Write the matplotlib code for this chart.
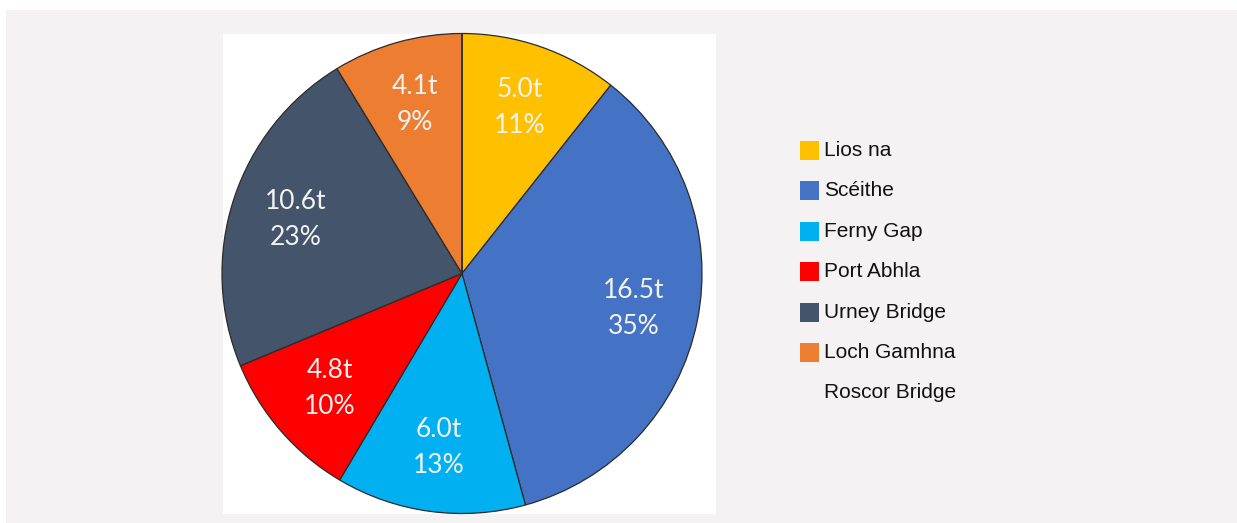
import matplotlib.pyplot as plt
from matplotlib.patches import Rectangle

# data
sites = ["Lios na", "Scéithe", "Ferny Gap", "Port Abhla", "Urney Bridge", "Loch Gamhna", "Roscor Bridge"]
tonnes = [5.0, 16.5, 6.0, 4.8, 10.6, 4.1, 0.0]
colours = ["#FFC000", "#4472C4", "#00B0F0", "#FF0000", "#44546A", "#ED7D31", "#8B1A1A"]

W, H = 1237, 523
PANEL = "#f4f2f3"


def px(x, y):
    # pixel coords (top-left origin) -> figure fraction
    return x / W, 1 - y / H


fig = plt.figure(figsize=(W / 100, H / 100), dpi=100)
fig.patch.set_facecolor("white")

# grey panel and the white square behind the pie
x0, y0 = px(6, H)
fig.add_artist(Rectangle((x0, y0), 1 - x0, px(0, 10)[1] - y0, transform=fig.transFigure,
                         facecolor=PANEL, edgecolor="none", zorder=0))
x0, y0 = px(223, 514)
x1, y1 = px(716, 34)
fig.add_artist(Rectangle((x0, y0), x1 - x0, y1 - y0, transform=fig.transFigure,
                         facecolor="white", edgecolor="none", zorder=0))

# pie axes: centre (462, 273.5), radius 240 px
cx, cy, r = 462, 273.5, 240
left, bottom = px(cx - r, cy + r)
ax = fig.add_axes([left, bottom, 2 * r / W, 2 * r / H])
ax.set_facecolor("none")

total = sum(tonnes)


def label(pct):
    if pct < 0.5:
        return ""
    return f"{pct * total / 100:.1f}t\n{pct:.0f}%"


ax.pie(tonnes, colors=colours, startangle=90, counterclock=False,
       wedgeprops=dict(edgecolor="#2b2b2b", linewidth=0.9),
       autopct=label, pctdistance=0.73, radius=1)
for t in ax.texts:
    t.set_color("#f2f2f2")
    t.set_fontsize(19)
    t.set_family("Lato")
    t.set_linespacing(1.55)
ax.set_xlim(-1, 1)
ax.set_ylim(-1, 1)
ax.set_aspect("auto")
ax.axis("off")

# legend
for i, (name, col) in enumerate(zip(sites, colours)):
    yc = 150 + i * 40.5
    if tonnes[i] > 0:
        sx, sy = px(800, yc + 9.5)
        fig.add_artist(Rectangle((sx, sy), 19 / W, 19 / H, transform=fig.transFigure,
                                 facecolor=col, edgecolor="none"))
    tx, ty = px(824, yc)
    fig.text(tx, ty, name, fontsize=15, family="Liberation Sans", color="#111111",
             va="center", ha="left")

fig.savefig("out.png", dpi=100)
